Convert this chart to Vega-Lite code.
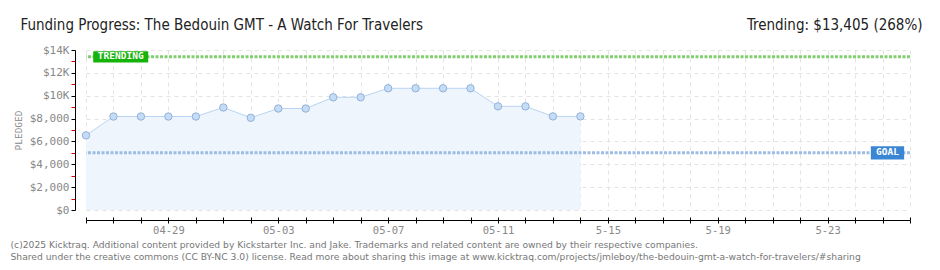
{
  "$schema": "https://vega.github.io/schema/vega-lite/v6.json",
  "width": 824,
  "height": 160,
  "autosize": "none",
  "padding": {"left": 86, "top": 50, "right": 30, "bottom": 60},
  "background": "white",
  "config": {"view": {"stroke": null}},
  "datasets": {
    "pledges": [
      {"date": "2025-04-26", "pledged": 6530},
      {"date": "2025-04-27", "pledged": 8180},
      {"date": "2025-04-28", "pledged": 8180},
      {"date": "2025-04-29", "pledged": 8180},
      {"date": "2025-04-30", "pledged": 8180},
      {"date": "2025-05-01", "pledged": 8970},
      {"date": "2025-05-02", "pledged": 8070},
      {"date": "2025-05-03", "pledged": 8880},
      {"date": "2025-05-04", "pledged": 8880},
      {"date": "2025-05-05", "pledged": 9860},
      {"date": "2025-05-06", "pledged": 9860},
      {"date": "2025-05-07", "pledged": 10650},
      {"date": "2025-05-08", "pledged": 10650},
      {"date": "2025-05-09", "pledged": 10650},
      {"date": "2025-05-10", "pledged": 10650},
      {"date": "2025-05-11", "pledged": 9070},
      {"date": "2025-05-12", "pledged": 9070},
      {"date": "2025-05-13", "pledged": 8190},
      {"date": "2025-05-14", "pledged": 8190}
    ],
    "lines": [
      {"name": "TRENDING", "amount": 13405, "labelDate": "2025-04-27T06:20:00Z"},
      {"name": "GOAL", "amount": 5000, "labelDate": "2025-05-25T04:20:00Z"}
    ]
  },
  "layer": [
    {
      "data": {"name": "pledges"},
      "mark": {"type": "area", "color": "#eef5fd", "opacity": 1},
      "encoding": {
        "x": {
          "field": "date", "type": "temporal",
          "scale": {"type": "utc", "nice": false, "domain": [{"year": 2025, "month": 4, "date": 26, "utc": true}, {"year": 2025, "month": 5, "date": 26, "utc": true}]},
          "axis": {
            "orient": "bottom", "offset": 10,
            "tickCount": {"interval": "day", "step": 1},
            "grid": true, "gridColor": "#e3e3e3", "gridDash": [4, 4], "gridWidth": 1,
            "domainColor": "#000", "domainWidth": 1,
            "tickColor": "#000", "tickSize": 3, "tickWidth": 1,
            "labelExpr": "(round((datum.value - utc(2025,3,26))/864e5) % 4 == 3) ? (round((datum.value - utc(2025,3,26))/864e5) < 18 ? utcFormat(datum.value, '%m-%d') : utcFormat(datum.value, '%-m-%d')) : ''",
            "labelOverlap": false, "labelFlush": false, "labelBound": false,
            "labelFont": "DejaVu Sans Mono", "labelFontSize": 10.5, "labelColor": "#888", "labelPadding": 2,
            "title": ["(c)2025 Kicktraq. Additional content provided by Kickstarter Inc. and Jake. Trademarks and related content are owned by their respective companies.", "Shared under the creative commons (CC BY-NC 3.0) license. Read more about sharing this image at www.kicktraq.com/projects/jmleboy/the-bedouin-gmt-a-watch-for-travelers/#sharing"],
            "titleX": -76, "titleY": 27, "titleAlign": "left", "titleAnchor": "start", "titleBaseline": "alphabetic",
            "titleFont": "DejaVu Sans", "titleFontSize": 9.2, "titleFontWeight": "normal", "titleColor": "#777", "titleLineHeight": 12
          }
        },
        "y": {
          "field": "pledged", "type": "quantitative",
          "scale": {"domain": [0, 14000], "nice": false},
          "axis": {
            "orient": "left", "offset": 11,
            "values": [0, 1000, 2000, 3000, 4000, 5000, 6000, 7000, 8000, 9000, 10000, 11000, 12000, 13000, 14000],
            "grid": true, "gridColor": "#e3e3e3", "gridDash": [4, 4],
            "gridOpacity": {"condition": {"test": "datum.value % 2000 != 0", "value": 0}, "value": 1},
            "domainColor": "#000", "tickSize": 4,
            "tickColor": {"condition": {"test": "datum.value % 2000 != 0", "value": "#e00000"}, "value": "#000"},
            "labelExpr": "datum.value % 2000 != 0 ? '' : (datum.value >= 10000 ? '$' + (datum.value/1000) + 'K' : '$' + format(datum.value, ','))",
            "labelOverlap": false, "labelFont": "DejaVu Sans Mono", "labelFontSize": 11, "labelColor": "#888", "labelPadding": 2,
            "title": "PLEDGED", "titleFont": "DejaVu Sans Mono", "titleFontSize": 9.5, "titleFontWeight": "normal", "titleColor": "#888", "titlePadding": 6
          }
        }
      }
    },
    {
      "data": {"name": "pledges"},
      "mark": {"type": "line", "color": "#b8d4f2", "strokeWidth": 1},
      "encoding": {
        "x": {
          "field": "date", "type": "temporal",
          "axis": {
            "orient": "top", "domain": false, "ticks": false, "labels": false, "grid": false,
            "title": "Funding Progress: The Bedouin GMT - A Watch For Travelers",
            "titleX": -66, "titleY": -21, "titleAlign": "left", "titleBaseline": "alphabetic", "titleAngle": 0,
            "titleFont": "DejaVu Sans Condensed, sans-serif", "titleFontSize": 15, "titleFontWeight": "normal", "titleColor": "#222"
          }
        },
        "y": {
          "field": "pledged", "type": "quantitative",
          "axis": {
            "orient": "right", "domain": false, "ticks": false, "labels": false, "grid": false,
            "title": "Trending: $13,405 (268%)",
            "titleX": 12, "titleY": -21, "titleAlign": "right", "titleBaseline": "alphabetic", "titleAngle": 0,
            "titleFont": "DejaVu Sans Condensed, sans-serif", "titleFontSize": 15, "titleFontWeight": "normal", "titleColor": "#222"
          }
        }
      }
    },
    {
      "data": {"name": "pledges"},
      "mark": {"type": "point", "filled": true, "fill": "#c4dcf6", "stroke": "#93b1d6", "strokeWidth": 1, "size": 55, "opacity": 1},
      "encoding": {
        "x": {
          "field": "date", "type": "temporal",
          "axis": {
            "orient": "bottom", "offset": 10, "tickCount": {"interval": "day", "step": 1},
            "domain": false, "labels": false, "grid": false, "title": null,
            "tickColor": "#000", "tickSize": -3, "tickWidth": 1
          }
        },
        "y": {"field": "pledged", "type": "quantitative", "axis": null}
      }
    },
    {
      "data": {"name": "lines"},
      "mark": {"type": "rule", "strokeWidth": 3, "strokeDash": [3, 1.5]},
      "encoding": {
        "y": {"field": "amount", "type": "quantitative", "axis": null},
        "stroke": {"field": "name", "type": "nominal", "scale": {"domain": ["TRENDING", "GOAL"], "range": ["#80d070", "#9dbde3"]}, "legend": null}
      }
    },
    {
      "data": {"name": "lines"},
      "mark": {"type": "point", "filled": true, "opacity": 1, "dy": -1},
      "encoding": {
        "x": {"field": "labelDate", "type": "temporal", "axis": null},
        "y": {"field": "amount", "type": "quantitative", "axis": null},
        "fill": {"field": "name", "type": "nominal", "scale": {"domain": ["TRENDING", "GOAL"], "range": ["#16b40b", "#3a86d4"]}, "legend": null},
        "shape": {"field": "name", "type": "nominal", "scale": {"domain": ["TRENDING", "GOAL"], "range": ["M -1 -0.205 L 1 -0.205 L 1 0.205 L -1 0.205 Z", "M -1 -0.4 L 1 -0.4 L 1 0.4 L -1 0.4 Z"]}, "legend": null},
        "size": {"field": "name", "type": "nominal", "scale": {"domain": ["TRENDING", "GOAL"], "range": [3025, 1109]}, "legend": null}
      }
    },
    {
      "data": {"name": "lines"},
      "mark": {"type": "text", "color": "white", "font": "DejaVu Sans Mono", "fontSize": 9.5, "fontWeight": "bold", "align": "center", "baseline": "middle", "dy": -1},
      "encoding": {
        "x": {"field": "labelDate", "type": "temporal", "axis": null},
        "y": {"field": "amount", "type": "quantitative", "axis": null},
        "text": {"field": "name"}
      }
    }
  ]
}
